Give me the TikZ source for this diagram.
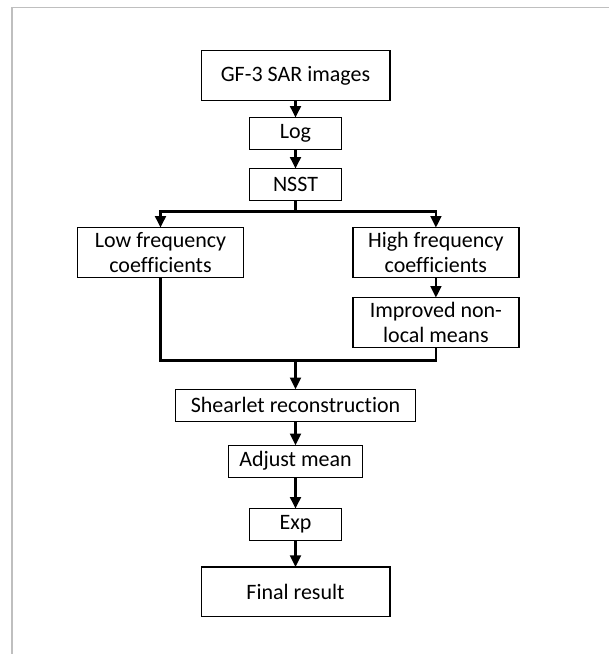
\documentclass[tikz,border=0pt]{standalone}
\usepackage{fontspec}
\setmainfont{Carlito}[Ligatures=NoCommon]
\usepackage{tikz}
\usetikzlibrary{calc,arrows.meta}
\usetikzlibrary{positioning}
\definecolor{frame-gray}{HTML}{BFBFBF}

\begin{document}
\begin{tikzpicture}[
    node distance=10pt,
    font=\fontsize{11pt}{12.5pt}\selectfont,
    >={Triangle[width=5.4pt,length=5.8pt]}
  ]

  % Global Style Definitions
  \tikzset{
    box/.style={draw=black, line width=0.7pt, minimum height=16pt, inner sep=0pt, outer sep=0pt, align=center},
    bigbox/.style={box, minimum width=94.3pt, minimum height=24.8pt},
    smallbox/.style={box, minimum width=46pt},
    coefbox/.style={box, minimum width=83pt, minimum height=24.8pt},
    flow/.style={line width=1.2pt},
    arrow/.style={flow, ->}
  }

  % Page area and the cut frame
  \useasboundingbox (0,0) rectangle (304.5pt,-327pt);
  \coordinate (frame_top) at (304.5pt,-3.65pt);
  \coordinate (frame_bottom) at (5.85pt,-327pt);
  \draw[frame-gray, line width=0.8pt] (frame_bottom) |- (frame_top);

  % Pipeline Nodes
  \node (gf)   [bigbox] at (147.75pt,-37.75pt) {GF-3 SAR images};
  \node (log)  [smallbox, below=8.65pt of gf] {Log};
  \node (nsst) [smallbox, below=9.5pt of log] {NSST};
  \coordinate[below=5.5pt of nsst] (split);

  % Two coefficient branches
  \node (low)      [coefbox, below=8pt of split, xshift=-67.5pt] {Low frequency\\coefficients};
  \node (high)     [coefbox, below=8pt of split, xshift=70.2pt] {High frequency\\coefficients};
  \node (improved) [coefbox, below=10.2pt of high] {Improved non-\\local means};
  \coordinate[below=6.6pt of improved] (merge_right);
  \coordinate (merge) at (gf |- merge_right);

  % Reconstruction chain
  \node (shear)  [box, minimum width=119.8pt, below=14.4pt of merge] {Shearlet reconstruction};
  \node (adjust) [box, minimum width=67pt, below=12pt of shear] {Adjust mean};
  \node (exp)    [smallbox, below=15.7pt of adjust] {Exp};
  \node (final)  [bigbox, below=13.2pt of exp] {Final result};

  % Connectors
  \draw[arrow] (gf) -- (log);
  \draw[arrow] (log) -- (nsst);
  \draw[flow] (nsst) -- (split);
  \draw[arrow] (split) -| (low);
  \draw[arrow] (split) -| (high);
  \draw[arrow] (high) -- (improved);
  \draw[flow] (low.south) |- (merge);
  \draw[flow] (improved.south) |- (merge);
  \draw[arrow] (merge) -- (shear);
  \draw[arrow] (shear) -- (adjust);
  \draw[arrow] (adjust) -- (exp);
  \draw[arrow] (exp) -- (final);

\end{tikzpicture}
\end{document}
